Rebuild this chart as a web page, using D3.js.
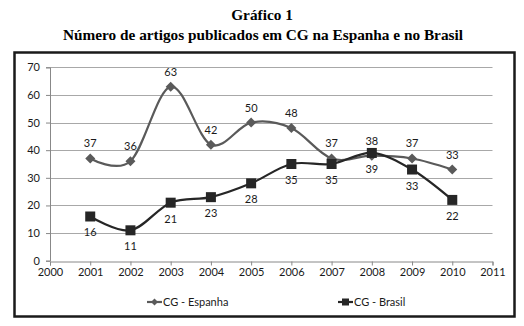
<!DOCTYPE html>
<html>
<head>
<meta charset="utf-8">
<script src="https://cdn.jsdelivr.net/npm/d3@7"></script>
<style>
  body { margin: 0; background: #fff; }
  svg { display: block; }
</style>
</head>
<body>
<div id="chart"></div>
<script>
// dados do gráfico
const years = [2001, 2002, 2003, 2004, 2005, 2006, 2007, 2008, 2009, 2010];
const espanha = [37, 36, 63, 42, 50, 48, 37, 38, 37, 33];
const brasil = [16, 11, 21, 23, 28, 35, 35, 39, 33, 22];
const xTicks = [2000, 2001, 2002, 2003, 2004, 2005, 2006, 2007, 2008, 2009, 2010, 2011];
const yTicks = [0, 10, 20, 30, 40, 50, 60, 70];

const width = 524, height = 326;
const svg = d3.select('#chart').append('svg')
    .attr('width', width)
    .attr('height', height);

// título
svg.append('text')
    .attr('x', 262).attr('y', 20)
    .attr('text-anchor', 'middle')
    .style('font-family', '"Liberation Serif", "DejaVu Serif", serif')
    .style('font-weight', 'bold')
    .style('font-size', '15.3px')
    .text('Gráfico 1');
svg.append('text')
    .attr('x', 263).attr('y', 39.5)
    .attr('text-anchor', 'middle')
    .style('font-family', '"Liberation Serif", "DejaVu Serif", serif')
    .style('font-weight', 'bold')
    .style('font-size', '15.3px')
    .text('Número de artigos publicados em CG na Espanha e no Brasil');

// moldura
svg.append('rect')
    .attr('x', 14.5).attr('y', 52.5)
    .attr('width', 500).attr('height', 264)
    .style('fill', 'none')
    .style('stroke', '#1a1a1a')
    .style('stroke-width', 2.5);

const x = d3.scaleLinear().domain([2000, 2011]).range([50, 492.5]);
const y = d3.scaleLinear().domain([0, 70]).range([260.7, 67.3]);

const font = 'Lato, "Open Sans", sans-serif';

// linhas de grade
svg.append('g')
    .selectAll('line')
    .data(yTicks.filter(d => d > 0))
    .enter().append('line')
    .attr('x1', x(2000)).attr('x2', x(2011))
    .attr('y1', d => Math.round(y(d)) + 0.5).attr('y2', d => Math.round(y(d)) + 0.5)
    .style('stroke', '#a8a8a8')
    .style('stroke-width', 1);

// eixos
const yAxis = svg.append('g')
    .attr('transform', `translate(${x(2000)},0)`)
    .call(d3.axisLeft(y).tickValues(yTicks).tickSize(4).tickPadding(6));
const xAxis = svg.append('g')
    .attr('transform', `translate(0,${Math.round(y(0)) + 0.5})`)
    .call(d3.axisBottom(x).tickValues(xTicks).tickFormat(d3.format('d')).tickSize(4).tickPadding(3));

[yAxis, xAxis].forEach(a => {
    a.select('.domain').style('stroke', '#888');
    a.selectAll('.tick line').style('stroke', '#888');
    a.selectAll('text')
        .style('font-family', font)
        .style('font-size', '11px')
        .style('fill', '#1a1a1a');
});

const line = d3.line()
    .x((d, i) => x(years[i]))
    .y(d => y(d))
    .curve(d3.curveCardinal.tension(0));

const series = [
    { name: 'CG - Espanha', values: espanha, color: '#5a5a5a', marker: 'diamond', labelDy: -11 },
    { name: 'CG - Brasil', values: brasil, color: '#262626', marker: 'square', labelDy: 20 }
];

function drawMarker(g, type, color, cx, cy) {
    if (type === 'diamond') {
        g.append('path')
            .attr('d', `M${cx},${cy - 5}L${cx + 5},${cy}L${cx},${cy + 5}L${cx - 5},${cy}Z`)
            .style('fill', color);
    } else {
        g.append('rect')
            .attr('x', cx - 5).attr('y', cy - 5)
            .attr('width', 10).attr('height', 10)
            .style('fill', color);
    }
}

series.forEach(s => {
    svg.append('path')
        .datum(s.values)
        .attr('d', line)
        .style('fill', 'none')
        .style('stroke', s.color)
        .style('stroke-width', 2.2);
});

series.forEach(s => {
    const g = svg.append('g');
    s.values.forEach((v, i) => drawMarker(g, s.marker, s.color, x(years[i]), y(v)));
    g.selectAll('text')
        .data(s.values)
        .enter().append('text')
        .attr('x', (d, i) => x(years[i]))
        .attr('y', d => y(d) + s.labelDy)
        .attr('text-anchor', 'middle')
        .style('font-family', font)
        .style('font-size', '11px')
        .style('fill', '#1a1a1a')
        .text(d => d);
});

// legenda
const legend = [
    { s: series[0], x0: 147 },
    { s: series[1], x0: 338 }
];
legend.forEach(l => {
    const g = svg.append('g');
    g.append('line')
        .attr('x1', l.x0).attr('x2', l.x0 + 15)
        .attr('y1', 302).attr('y2', 302)
        .style('stroke', l.s.color)
        .style('stroke-width', 2.2);
    if (l.s.marker === 'diamond') {
        g.append('path')
            .attr('d', `M${l.x0 + 7.5},298.5L${l.x0 + 11},302L${l.x0 + 7.5},305.5L${l.x0 + 4},302Z`)
            .style('fill', l.s.color);
    } else {
        g.append('rect')
            .attr('x', l.x0 + 4).attr('y', 298.5)
            .attr('width', 7).attr('height', 7)
            .style('fill', l.s.color);
    }
    g.append('text')
        .attr('x', l.x0 + 16).attr('y', 306)
        .style('font-family', font)
        .style('font-size', '11px')
        .style('fill', '#1a1a1a')
        .text(l.s.name);
});
</script>
</body>
</html>
